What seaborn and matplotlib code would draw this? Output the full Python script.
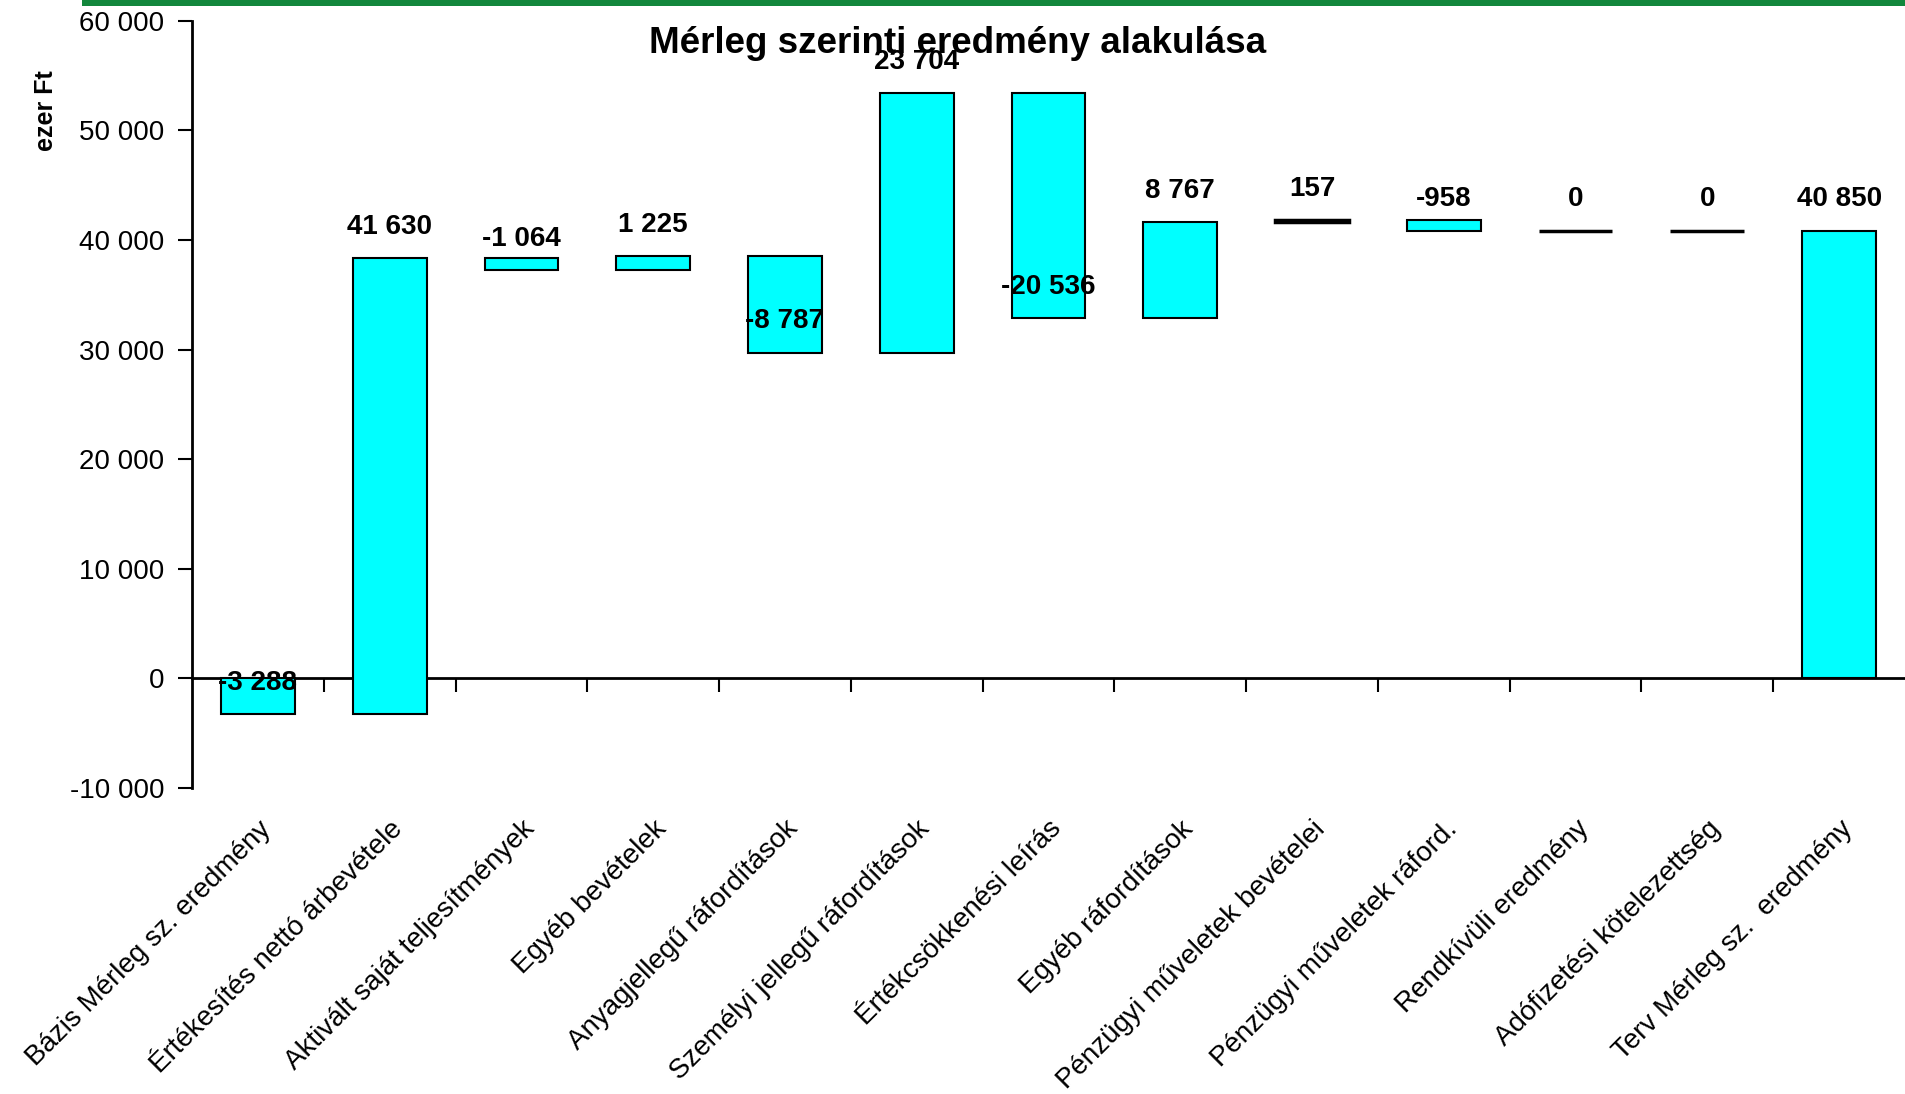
import matplotlib.pyplot as plt
from matplotlib.patches import Rectangle
import seaborn as sns
import numpy as np
import pandas as pd

categories = [
    "Bázis Mérleg sz. eredmény",
    "Értékesítés nettó árbevétele",
    "Aktivált saját teljesítmények",
    "Egyéb bevételek",
    "Anyagjellegű ráfordítások",
    "Személyi jellegű ráfordítások",
    "Értékcsökkenési leírás",
    "Egyéb ráfordítások",
    "Pénzügyi műveletek bevételei",
    "Pénzügyi műveletek ráford.",
    "Rendkívüli eredmény",
    "Adófizetési kötelezettség",
    "Terv Mérleg sz.  eredmény",
]
changes = [-3288, 41630, -1064, 1225, -8787, 23704, -20536, 8767, 157, -958, 0, 0]
final_value = 40850
y_ticks = [-10000, 0, 10000, 20000, 30000, 40000, 50000, 60000]


def fmt(v):
    return f"{int(v):,}".replace(",", " ")


sns.set_style("white")
plt.rcParams["font.family"] = ["Liberation Sans", "DejaVu Sans"]
plt.rcParams["text.color"] = "black"
plt.rcParams["xtick.color"] = "black"
plt.rcParams["ytick.color"] = "black"
plt.rcParams["axes.labelcolor"] = "black"

steps = np.array(changes, dtype=float)
ends = np.cumsum(steps)
starts = ends - steps
heights = np.append(steps, final_value)
bottoms = np.append(starts, 0)
label_y = np.append(ends, final_value)
label_txt = changes + [final_value]

df = pd.DataFrame({"tetel": categories, "ertek": heights})

fig = plt.figure(figsize=(19.05, 10.94), dpi=100)
ax = fig.add_axes([0.1008, 0.2797, 0.8992, 0.7014])

sns.barplot(data=df, x="tetel", y="ertek", bottom=bottoms, color="#00FFFF",
            saturation=1, width=0.56, edgecolor="black", linewidth=1.5,
            errorbar=None, ax=ax)

# flat (near-zero) steps show up as a thick black line
for p in ax.patches:
    if abs(p.get_height()) < 500:
        p.set_linewidth(2.5)

for i, (y, t) in enumerate(zip(label_y, label_txt)):
    ax.annotate(fmt(t), (i, y), xytext=(0, 22.5), textcoords="offset points",
                ha="center", va="center", fontsize=20, fontweight="bold")

ax.set_ylim(y_ticks[0], y_ticks[-1])
ax.set_xlim(-0.5, len(categories) - 0.5)
ax.set_yticks(y_ticks)
ax.set_yticklabels([fmt(v) for v in y_ticks])
ax.set_xlabel("")
ax.set_ylabel("")

for s in ["top", "right", "bottom"]:
    ax.spines[s].set_visible(False)
ax.spines["left"].set_linewidth(2)
ax.spines["left"].set_color("black")
ax.tick_params(axis="y", direction="out", length=10, width=1.5, labelsize=20,
               pad=10, left=True, color="black", labelcolor="black")

ax.set_xticks(range(len(categories)))
ax.set_xticklabels(categories, rotation=45, ha="right", rotation_mode="anchor",
                   fontsize=20, color="black")
ax.tick_params(axis="x", length=0, pad=20)

# zero line with ticks between the categories
zero_frac = (0 - y_ticks[0]) / (y_ticks[-1] - y_ticks[0])
sec = ax.secondary_xaxis(zero_frac)
sec.set_xticks(np.arange(0.5, len(categories) - 1, 1.0))
sec.set_xticklabels([])
sec.tick_params(direction="out", length=10, width=1.5, color="black")
sec.spines["bottom"].set_linewidth(2)
sec.spines["bottom"].set_color("black")

fig.text(0.5024, 0.9598, "Mérleg szerinti eredmény alakulása", ha="center",
         va="center", fontsize=26.5, fontweight="bold", color="black")
fig.text(46 / 1905, 1 - 111 / 1094, "ezer Ft", rotation=90, ha="center",
         va="center", fontsize=18, fontweight="bold", color="black")

fig.add_artist(Rectangle((0.043, 0.9945), 0.957, 0.0055, transform=fig.transFigure,
                         color="#12873c", lw=0))

fig.savefig("out.png", dpi=100)
